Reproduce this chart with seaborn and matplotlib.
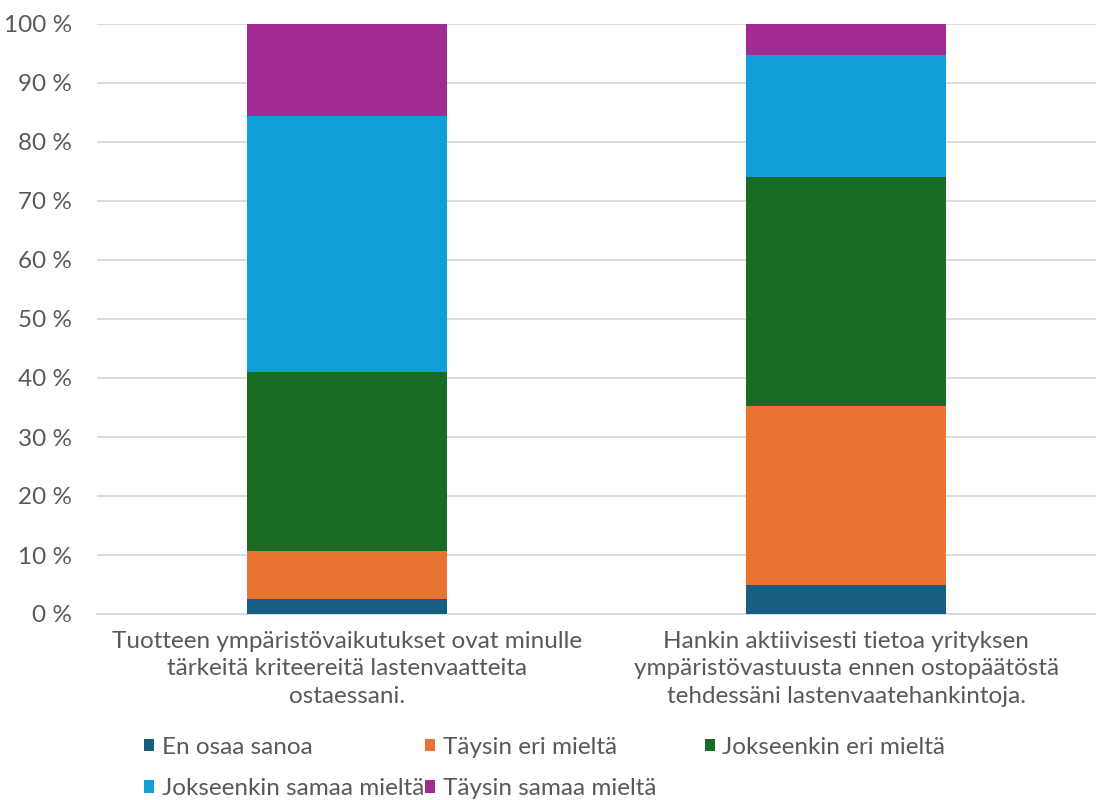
import matplotlib
matplotlib.use("Agg")
import matplotlib.pyplot as plt
import seaborn as sns
import numpy as np
import pandas as pd
from matplotlib.patches import Patch

categories = [
    "Tuotteen ympäristövaikutukset ovat minulle\ntärkeitä kriteereitä lastenvaatteita\nostaessani.",
    "Hankin aktiivisesti tietoa yrityksen\nympäristövastuusta ennen ostopäätöstä\ntehdessäni lastenvaatehankintoja.",
]
series_names = ["En osaa sanoa", "Täysin eri mieltä", "Jokseenkin eri mieltä",
                "Jokseenkin samaa mieltä", "Täysin samaa mieltä"]
en_osaa = [2.5, 4.9]
taysin_eri = [8.2, 30.4]
jokseenkin_eri = [30.4, 38.7]
jokseenkin_samaa = [43.3, 20.7]
taysin_samaa = [15.6, 5.3]
colors = ["#175E82", "#EA7233", "#1A6B24", "#119FD7", "#A12B92"]
yticks = [0, 10, 20, 30, 40, 50, 60, 70, 80, 90, 100]

sns.set_theme(style="white")
plt.rcParams['font.family'] = ['Lato', 'DejaVu Sans']

series = [en_osaa, taysin_eri, jokseenkin_eri, jokseenkin_samaa, taysin_samaa]
cum = np.cumsum(np.array(series), axis=0)

fig = plt.figure(figsize=(10.96, 8.0), dpi=100)
ax = fig.add_axes([0.0888, 0.2325, 0.911, 0.7375])

for i in range(len(series) - 1, -1, -1):
    df = pd.DataFrame({"cat": categories, "val": cum[i]})
    sns.barplot(data=df, x="cat", y="val", color=colors[i], width=0.4,
                ax=ax, saturation=1, linewidth=0, zorder=3)

FS = 17.5
ax.set_xlim(-0.5, 1.5)
ax.set_ylim(0, 100)
ax.set_yticks(yticks)
ax.set_yticklabels([f"{t} %" for t in yticks])
ax.set_xlabel("")
ax.set_ylabel("")
ax.yaxis.grid(True, color="#D9D9D9", linewidth=1.3, zorder=0)
ax.set_axisbelow(True)
for s in ["top", "right", "left"]:
    ax.spines[s].set_visible(False)
ax.spines["bottom"].set_color("#D9D9D9")
ax.spines["bottom"].set_linewidth(1.3)
ax.tick_params(axis="y", length=0, labelsize=FS, labelcolor="#595959", pad=18)
ax.tick_params(axis="x", length=0, labelsize=FS, labelcolor="#595959", pad=12)
for lbl in ax.get_xticklabels():
    lbl.set_linespacing(1.4)

col_x = [0.1315, 0.388, 0.643]
columns = [[0, 3], [1, 4], [2]]
for x, idx in zip(col_x, columns):
    handles = [Patch(facecolor=colors[i], edgecolor="none") for i in idx]
    labels = [series_names[i] for i in idx]
    fig.legend(handles, labels, loc="upper left", bbox_to_anchor=(x, 0.079),
               ncol=1, frameon=False, fontsize=FS, labelcolor="#595959",
               handlelength=0.42, handleheight=0.42, handletextpad=0.3,
               borderaxespad=0, borderpad=0, labelspacing=0.85)

fig.savefig("out.png", dpi=100)
